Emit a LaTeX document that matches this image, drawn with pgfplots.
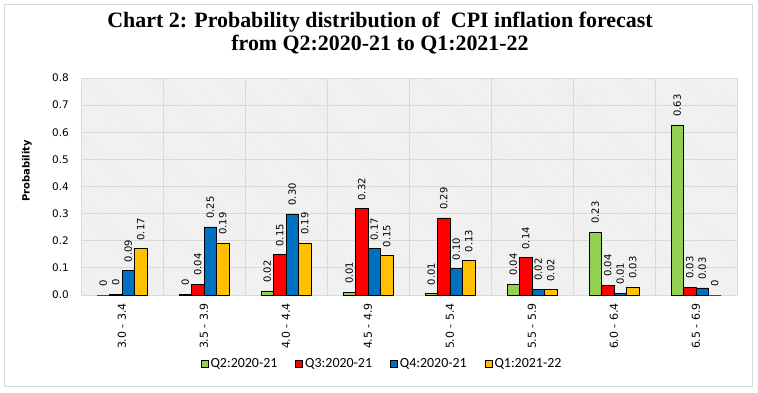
\documentclass[border=0pt]{standalone}
\usepackage{fontspec}
\setmainfont{DejaVu Sans}
\newfontfamily\titlefont{Liberation Serif}
\newfontfamily\legfont{Carlito}
\usepackage{pgfplots}
\usepackage{pgfplotstable}
\pgfplotsset{compat=1.18}
\usetikzlibrary{patterns}
\definecolor{cG}{HTML}{92D050}
\definecolor{cR}{HTML}{FF0000}
\definecolor{cB}{HTML}{0070C0}
\definecolor{cY}{HTML}{FFC000}
\definecolor{gridc}{HTML}{D9D9D9}

\pgfplotstableread{
x y lab
0 0     0
1 0.003 0
2 0.015 0.02
3 0.010 0.01
4 0.005 0.01
5 0.040 0.04
6 0.232 0.23
7 0.627 0.63
}\tG
\pgfplotstableread{
x y lab
0 0.003 0
1 0.040 0.04
2 0.148 0.15
3 0.318 0.32
4 0.284 0.29
5 0.137 0.14
6 0.036 0.04
7 0.029 0.03
}\tR
\pgfplotstableread{
x y lab
0 0.090 0.09
1 0.251 0.25
2 0.299 0.30
3 0.170 0.17
4 0.097 0.10
5 0.022 0.02
6 0.006 0.01
7 0.026 0.03
}\tB
\pgfplotstableread{
x y lab
0 0.170 0.17
1 0.192 0.19
2 0.192 0.19
3 0.145 0.15
4 0.127 0.13
5 0.019 0.02
6 0.029 0.03
7 0     0
}\tY

\begin{document}
\begin{tikzpicture}
\useasboundingbox (0bp,0bp) rectangle (758bp,-393bp);
\draw[color=gridc, line width=1bp] (4bp,-4bp) rectangle (752bp,-386bp);
\node[font=\titlefont\bfseries\fontsize{22}{22}\selectfont, align=center] at (380bp,-33bp)
  {Chart 2: Probability distribution of\ \ CPI inflation forecast\\[1bp] from Q2:2020-21 to Q1:2021-22};
\node[rotate=90, font=\bfseries\fontsize{10}{12}\selectfont] at (27bp,-171bp) {Probability};
\begin{axis}[
  at={(81bp,-295bp)}, anchor=south west,
  scale only axis, width=656bp, height=217bp,
  ymin=0, ymax=0.8, ytick={0,0.1,...,0.8},
  xmin=-0.5, xmax=7.5, xtick={0,...,7},
  xticklabels={3.0 - 3.4,3.5 - 3.9,4.0 - 4.4,4.5 - 4.9,5.0 - 5.4,5.5 - 5.9,6.0 - 6.4,6.5 - 6.9},
  extra x ticks={0.5,1.5,2.5,3.5,4.5,5.5,6.5},
  extra x tick labels={},
  extra x tick style={grid=major, major tick length=0pt},
  ymajorgrids,
  grid style={gridc, line width=0.8bp},
  axis line style={gridc, line width=0.8bp},
  major tick length=0pt, minor tick length=0pt,
  axis background/.style={preaction={fill=black!3}, pattern=north west lines, pattern color=black!12},
  ybar=0pt, bar width=12.5bp,
  /pgf/number format/assume math mode=true,
  yticklabel style={/pgf/number format/fixed, /pgf/number format/fixed zerofill, /pgf/number format/precision=1,
    font=\fontsize{10.5}{12}\selectfont, inner sep=0pt, xshift=-12bp},
  xticklabel style={yshift=-8bp, rotate=90, anchor=east, font=\fontsize{11}{12}\selectfont, inner sep=0pt},
  point meta=explicit symbolic,
  nodes near coords,
  every node near coord/.append style={rotate=90, anchor=west, font=\fontsize{10}{11}\selectfont, inner xsep=8bp, inner ysep=0pt},
  legend style={at={(0.459,-0.318)}, anchor=center, legend columns=4, draw=none, fill=none,
    font=\legfont\fontsize{14}{16}\selectfont,
    /tikz/every even column/.append style={column sep=16bp}},
  legend image code/.code={\draw[#1, draw=black, line width=0.8bp] (0bp,-3.5bp) rectangle (7bp,3.5bp);},
]
\addplot[fill=cG, draw=black, line width=0.8bp] table[x=x, y=y, meta=lab] {\tG};
\addplot[fill=cR, draw=black, line width=0.8bp] table[x=x, y=y, meta=lab] {\tR};
\addplot[fill=cB, draw=black, line width=0.8bp] table[x=x, y=y, meta=lab] {\tB};
\addplot[fill=cY, draw=black, line width=0.8bp] table[x=x, y=y, meta=lab] {\tY};
\legend{Q2:2020-21, Q3:2020-21, Q4:2020-21, Q1:2021-22}
\end{axis}
\end{tikzpicture}
\end{document}
